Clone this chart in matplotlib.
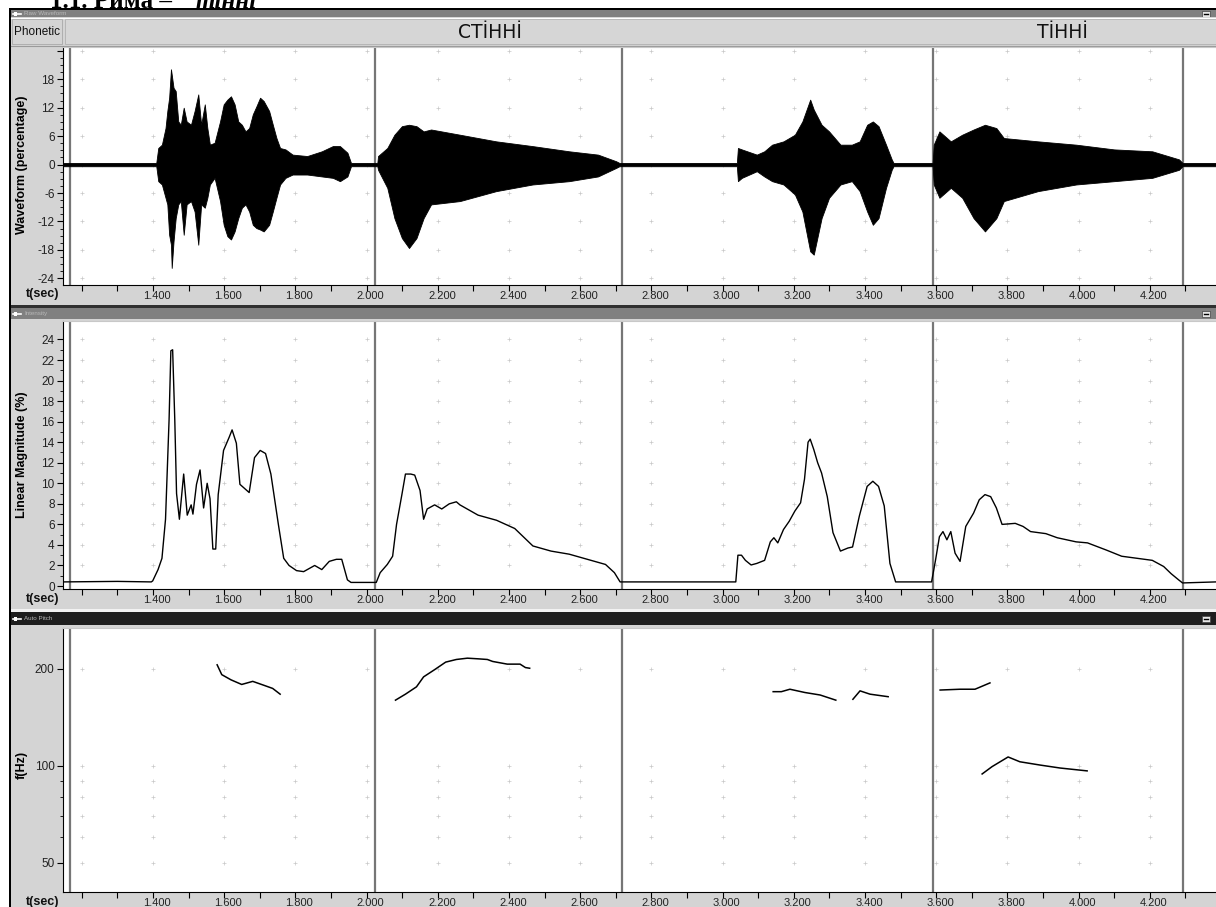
import numpy as np
import matplotlib.pyplot as plt
from matplotlib.patches import Rectangle
from matplotlib.ticker import NullFormatter
import matplotlib.transforms as mtransforms

plt.rcParams['font.family'] = ['Liberation Sans', 'DejaVu Sans']

# ---- values (time in seconds) ----
# waveform envelope (percentage)
wave_t = [1.147, 1.409, 1.4146, 1.4248, 1.4350, 1.4401, 1.4452, 1.4503, 1.4524, 1.4575,
          1.4636, 1.4708, 1.4779, 1.4861, 1.4943, 1.5065, 1.5167, 1.5270, 1.5351, 1.5453,
          1.5525, 1.5596, 1.5729, 1.5882, 1.5984, 1.6087, 1.6189, 1.6291, 1.6393, 1.6495,
          1.6597, 1.6700, 1.6802, 1.6904, 1.7006, 1.7108, 1.7261, 1.7364, 1.7466, 1.7568,
          1.772, 1.792, 1.833, 1.874, 1.905, 1.925, 1.946, 1.956,
          2.030, 2.032, 2.058, 2.078, 2.099, 2.119, 2.140, 2.160, 2.181, 2.262,
          2.364, 2.466, 2.569, 2.650, 2.701, 2.710,
          3.040, 3.043, 3.054, 3.096, 3.117, 3.139, 3.171, 3.203, 3.224, 3.246,
          3.256, 3.278, 3.299, 3.331, 3.363, 3.385, 3.406, 3.422, 3.438, 3.459,
          3.475, 3.480,
          3.590, 3.593, 3.609, 3.641, 3.673, 3.705, 3.737, 3.769, 3.790, 3.886,
          3.993, 4.100, 4.207, 4.282, 4.292, 4.386]
wave_up = [0.35, 0.35, 3.5, 4.2, 7.7, 11.3, 14.1, 20.1, 19.0, 16.2,
           15.5, 9.1, 8.4, 12.0, 9.1, 8.4, 11.3, 14.8, 8.4, 12.7,
           7.7, 4.2, 4.6, 9.1, 12.7, 13.7, 14.4, 12.7, 9.1, 8.4,
           7.0, 7.7, 10.6, 12.3, 14.1, 13.4, 11.3, 8.4, 5.6, 3.5,
           3.2, 2.1, 1.8, 2.8, 3.9, 3.9, 2.5, 0.35,
           0.35, 1.8, 3.5, 6.3, 8.1, 8.4, 8.1, 7.0, 7.4, 6.3,
           4.9, 3.9, 2.8, 2.1, 0.7, 0.35,
           0.35, 3.5, 3.2, 2.1, 2.8, 4.2, 4.9, 6.3, 9.1, 13.7,
           11.6, 8.4, 7.0, 4.2, 4.2, 4.9, 8.4, 9.1, 8.1, 4.2,
           1.1, 0.35,
           0.35, 4.2, 7.0, 4.9, 6.3, 7.4, 8.4, 7.7, 5.6, 4.9,
           4.2, 3.2, 2.8, 1.1, 0.35, 0.35]
wave_lo = [-0.35, -0.35, -3.5, -4.2, -7.0, -8.4, -14.8, -16.9, -21.8, -16.2,
           -11.3, -8.4, -7.7, -14.8, -8.4, -7.7, -9.9, -16.9, -8.4, -9.1,
           -7.0, -4.2, -2.8, -7.7, -12.7, -15.1, -15.8, -14.1, -11.3, -9.1,
           -8.4, -9.9, -12.7, -13.4, -13.7, -14.1, -12.7, -9.9, -7.0, -4.2,
           -2.8, -2.1, -2.1, -2.5, -2.8, -3.5, -2.5, -0.35,
           -0.35, -1.1, -4.9, -11.3, -15.5, -17.6, -15.5, -11.3, -8.4, -7.7,
           -5.6, -4.2, -3.5, -2.5, -0.7, -0.35,
           -0.35, -3.5, -2.8, -1.4, -2.5, -3.5, -4.2, -6.3, -9.9, -18.3,
           -19.0, -11.3, -7.0, -4.2, -3.5, -5.6, -9.9, -12.7, -11.3, -4.9,
           -1.1, -0.35,
           -0.35, -4.2, -7.0, -4.9, -7.0, -11.3, -14.1, -11.3, -7.7, -5.6,
           -4.2, -3.5, -2.8, -1.1, -0.35, -0.35]

# intensity (linear magnitude, %)
int_t = [1.147, 1.300, 1.395, 1.399, 1.414, 1.425, 1.435, 1.445, 1.450, 1.455,
         1.461, 1.466, 1.474, 1.486, 1.496, 1.507, 1.512, 1.522, 1.532, 1.542,
         1.552, 1.560, 1.568, 1.576, 1.583, 1.598, 1.614, 1.622, 1.634, 1.644,
         1.660, 1.670, 1.685, 1.701, 1.716, 1.731, 1.752, 1.767, 1.782, 1.803,
         1.823, 1.854, 1.874, 1.895, 1.915, 1.930, 1.946, 1.956, 2.027, 2.038,
         2.058, 2.073, 2.084, 2.099, 2.109, 2.124, 2.135, 2.150, 2.160, 2.170,
         2.191, 2.211, 2.232, 2.252, 2.262, 2.313, 2.365, 2.416, 2.446, 2.467,
         2.518, 2.569, 2.620, 2.671, 2.696, 2.712,
         3.037, 3.043, 3.053, 3.064, 3.080, 3.096, 3.118, 3.134, 3.144, 3.155,
         3.171, 3.187, 3.203, 3.219, 3.230, 3.240, 3.246, 3.256, 3.267, 3.278,
         3.294, 3.310, 3.331, 3.352, 3.365, 3.384, 3.406, 3.422, 3.438, 3.454,
         3.470, 3.486, 3.587, 3.598, 3.609, 3.619, 3.630, 3.641, 3.653, 3.667,
         3.683, 3.705, 3.721, 3.737, 3.753, 3.769, 3.785, 3.822, 3.844, 3.865,
         3.908, 3.940, 3.993, 4.025, 4.078, 4.121, 4.164, 4.207, 4.239, 4.260,
         4.281, 4.292, 4.386]
int_v = [0.4, 0.45, 0.4, 0.5, 1.6, 2.7, 6.5, 16.2, 22.9, 23.0,
         16.2, 9.0, 6.5, 10.9, 6.9, 7.9, 7.0, 9.9, 11.3, 7.6,
         10.0, 8.5, 3.6, 3.6, 8.9, 13.2, 14.5, 15.2, 13.9, 9.9,
         9.4, 9.1, 12.5, 13.2, 12.9, 10.9, 6.0, 2.7, 2.0, 1.5,
         1.4, 2.0, 1.6, 2.4, 2.6, 2.6, 0.6, 0.35, 0.35, 1.3,
         2.1, 2.9, 6.0, 8.9, 10.9, 10.9, 10.8, 9.3, 6.5, 7.5,
         7.9, 7.5, 8.0, 8.2, 7.9, 6.9, 6.4, 5.6, 4.6, 3.9,
         3.4, 3.1, 2.6, 2.1, 1.3, 0.4,
         0.4, 3.0, 3.0, 2.5, 2.05, 2.2, 2.5, 4.3, 4.7, 4.2,
         5.5, 6.3, 7.3, 8.1, 10.4, 14.0, 14.3, 13.3, 12.0, 11.0,
         8.7, 5.2, 3.4, 3.7, 3.8, 6.8, 9.7, 10.2, 9.7, 7.8,
         2.2, 0.4, 0.4, 2.5, 4.8, 5.3, 4.5, 5.3, 3.2, 2.4,
         5.8, 7.1, 8.4, 8.9, 8.7, 7.6, 6.0, 6.1, 5.8, 5.3,
         5.1, 4.7, 4.3, 4.2, 3.5, 2.9, 2.7, 2.5, 1.9, 1.2,
         0.6, 0.3, 0.4]

# pitch contours (Hz)
p1_t = [1.580, 1.593, 1.619, 1.649, 1.680, 1.711, 1.736, 1.757]
p1_f = [206, 192, 185, 179, 183, 178, 174, 167]
p2_t = [2.081, 2.109, 2.140, 2.160, 2.191, 2.222, 2.252, 2.283, 2.313, 2.339,
        2.354, 2.395, 2.431, 2.446, 2.458]
p2_f = [160, 167, 176, 189, 199, 210, 214, 216, 215, 214, 211, 207, 207, 202, 201]
p3_t = [3.142, 3.165, 3.189, 3.231, 3.274, 3.318]
p3_f = [170, 170, 173, 169, 166, 160]
p4_t = [3.366, 3.386, 3.414, 3.465]
p4_f = [161, 171, 167, 164]
p5_t = [3.611, 3.667, 3.709, 3.751]
p5_f = [172, 173, 173, 181]
p6_t = [3.729, 3.757, 3.802, 3.835, 3.892, 3.948, 4.024]
p6_f = [94.4, 99.5, 106.6, 103, 100.6, 98.5, 96.5]

boundaries = [1.167, 2.024, 2.716, 3.591, 4.293]
seg_labels = ['СТİННİ', 'ТİННİ']
seg_label_t = [2.347, 3.956]

time_ticks = [1.4, 1.6, 1.8, 2.0, 2.2, 2.4, 2.6, 2.8, 3.0, 3.2, 3.4, 3.6, 3.8, 4.0, 4.2]
time_minor = [1.2, 1.3, 1.5, 1.7, 1.9, 2.1, 2.3, 2.5, 2.7, 2.9, 3.1, 3.3, 3.5,
              3.7, 3.9, 4.1, 4.3]
grid_t = [1.2] + time_ticks

wave_ticks = [-24, -18, -12, -6, 0, 6, 12, 18, 24]
int_ticks = [0, 2, 4, 6, 8, 10, 12, 14, 16, 18, 20, 22, 24]
pitch_ticks = [50, 100, 200]
pitch_minor = [60, 70, 80, 90]

T_LEFT, T_RIGHT = 1.147, 4.386

# ---- screen layout in pixels ----
W, H = 1216, 907
fig = plt.figure(figsize=(W / 100, H / 100), dpi=100)
fig.patch.set_facecolor('#d4d4d4')


def box(x0, y0, x1, y1):
    return [x0 / W, 1 - y1 / H, (x1 - x0) / W, (y1 - y0) / H]


bg = fig.add_axes(box(0, 0, W, H))
bg.set_xlim(0, W)
bg.set_ylim(H, 0)
bg.axis('off')


def rect(x0, y0, x1, y1, color, ec='none', lw=0):
    bg.add_patch(Rectangle((x0, y0), x1 - x0, y1 - y0, facecolor=color,
                           edgecolor=ec, linewidth=lw))


# page strip with the cut-off heading
rect(0, 0, W, 9, 'white')
rect(0, 0, 9, H, 'white')
bg.text(50, 7.5, '1.1. Рима – ', family='Liberation Serif', weight='bold',
        fontsize=18, va='baseline', ha='left')
bg.text(196, 7.5, 'тінні', family='Liberation Serif', weight='bold',
        style='italic', fontsize=18, va='baseline', ha='left')

# window frame
rect(9, 8, 11, H, 'black')
rect(9, 8, W, 10, 'black')

# title bars
bars = [(10, 17, '#808080', 'Raw Waveform'),
        (308, 319, '#808080', 'Intensity'),
        (612, 625, '#1e1e1e', 'Auto Pitch')]
rect(11, 305, W, 308, '#303030')
rect(11, 609, W, 612, '#f2f2f2')
for y0, y1, c, name in bars:
    rect(11, y0, W, y1, c)
    yc = (y0 + y1) / 2
    bg.plot([13, 21], [yc, yc], color='white', lw=1.2)
    bg.add_patch(Rectangle((14, yc - 2), 3, 4, facecolor='white', edgecolor='none'))
    bg.text(24, yc, name, fontsize=4.5, color='#b8b8b8', va='center', ha='left')
    bg.add_patch(Rectangle((1202, yc - 3), 8, 6, facecolor='#e6e6e6',
                           edgecolor='#404040', linewidth=0.5))
    bg.plot([1204, 1208], [yc + 0.5, yc + 0.5], color='black', lw=1)

# phonetic tier
rect(11, 17, W, 46, '#d4d4d4')
bg.plot([11, W], [18, 18], color='white', lw=0.8)
bg.plot([11, W], [45.5, 45.5], color='#9a9a9a', lw=0.8)
rect(12, 19, 62, 44, '#d4d4d4', ec='#a8a8a8', lw=0.6)
bg.text(14, 32, 'Phonetic', fontsize=8.5, va='center', ha='left', color='#111111')
rect(65, 19, W, 44, '#d6d6d6', ec='#b0b0b0', lw=0.6)

# t(sec) captions
for yc in (294, 599, 902):
    bg.text(43, yc, 't(sec)', fontsize=9, weight='bold', ha='center',
            va='center', color='#111111')

ax_w = fig.add_axes(box(63, 47, W, 285))
ax_i = fig.add_axes(box(63, 321, W, 589))
ax_p = fig.add_axes(box(63, 628, W, 892))

tick_shift = mtransforms.ScaledTranslation(4 / 100, 0, fig.dpi_scale_trans)


def style(ax, ylabel, label_y_px, height_px):
    ax.set_facecolor('white')
    ax.spines['right'].set_visible(False)
    ax.spines['top'].set_color('#c8c8c8')
    ax.spines['left'].set_linewidth(0.8)
    ax.spines['bottom'].set_linewidth(0.8)
    ax.set_xlim(T_LEFT, T_RIGHT)
    ax.set_xticks(time_ticks, labels=['%.3f' % t for t in time_ticks])
    ax.set_xticks(time_minor, minor=True)
    ax.tick_params(axis='x', which='both', direction='out', length=4,
                   width=0.8, pad=0.5, labelsize=8, labelcolor='#222222')
    ax.tick_params(axis='y', which='major', direction='out', length=4,
                   width=0.8, pad=2, labelsize=8.5, labelcolor='#222222')
    ax.tick_params(axis='y', which='minor', direction='out', length=2,
                   width=0.6)
    for lbl in ax.get_xticklabels():
        lbl.set_transform(lbl.get_transform() + tick_shift)
    ax.set_ylabel(ylabel, fontsize=9, weight='bold', va='center')
    ax.yaxis.set_label_coords(-41 / 1153, 1 - label_y_px / height_px)
    for b in boundaries:
        ax.axvline(b, color='#767676', lw=1.6, zorder=2)


# waveform
ax_w.set_ylim(-25.4, 24.8)
ax_w.set_yticks(wave_ticks, labels=[str(v) for v in wave_ticks[:-1]] + [''])
ax_w.set_yticks(np.arange(-24, 24.1, 1.5), minor=True)
gx, gy = np.meshgrid(grid_t, wave_ticks)
ax_w.scatter(gx.ravel(), gy.ravel(), marker='+', s=9, c='#c8c8c8', linewidths=0.5, zorder=1)
ax_w.fill_between(wave_t, wave_lo, wave_up, color='black', lw=0.6, zorder=3)
style(ax_w, 'Waveform (percentage)', 118, 238)

# intensity
ax_i.set_ylim(-0.29, 25.8)
ax_i.set_yticks(int_ticks, labels=[str(v) for v in int_ticks])
ax_i.set_yticks(np.arange(1, 25, 2), minor=True)
gx, gy = np.meshgrid(grid_t, int_ticks[1:])
ax_i.scatter(gx.ravel(), gy.ravel(), marker='+', s=9, c='#c8c8c8', linewidths=0.5, zorder=1)
ax_i.plot(int_t, int_v, color='black', lw=1.0, zorder=3)
style(ax_i, 'Linear Magnitude (%)', 134, 268)

# pitch
ax_p.set_yscale('log')
ax_p.set_ylim(40.6, 268)
ax_p.set_yticks(pitch_ticks, labels=[str(v) for v in pitch_ticks])
ax_p.set_yticks(pitch_minor, minor=True)
ax_p.yaxis.set_minor_formatter(NullFormatter())
gx, gy = np.meshgrid(grid_t, pitch_ticks + pitch_minor)
ax_p.scatter(gx.ravel(), gy.ravel(), marker='+', s=9, c='#c8c8c8', linewidths=0.5, zorder=1)
for pt, pf in [(p1_t, p1_f), (p2_t, p2_f), (p3_t, p3_f), (p4_t, p4_f),
               (p5_t, p5_f), (p6_t, p6_f)]:
    ax_p.plot(pt, pf, color='black', lw=1.1, zorder=3)
style(ax_p, 'f(Hz)', 137, 264)

# segment labels in the phonetic tier
lab_tr = mtransforms.blended_transform_factory(ax_w.transData, bg.transData)
for t, s in zip(seg_label_t, seg_labels):
    bg.text(t, 33, s, transform=lab_tr, fontsize=13.5, family='DejaVu Sans',
            ha='center', va='center', color='#111111')

fig.savefig('out.png', dpi=100, facecolor=fig.get_facecolor())
